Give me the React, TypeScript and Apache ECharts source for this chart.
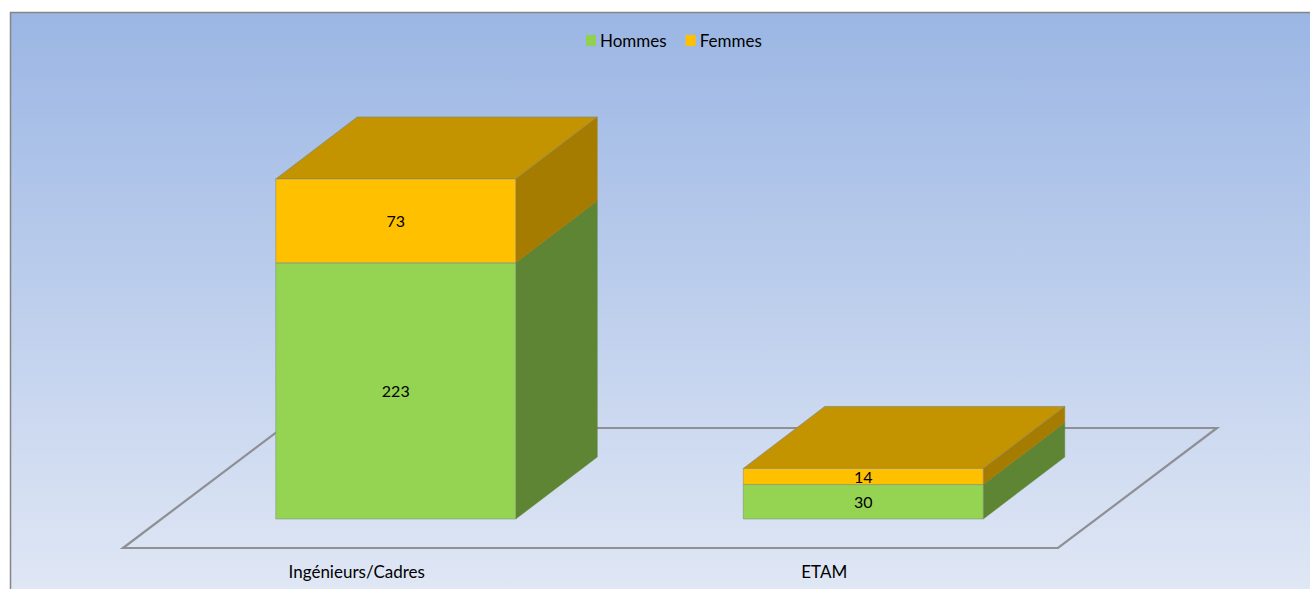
import React, { useEffect, useRef } from "react";
import * as echarts from "echarts";

const categories = ["Ingénieurs/Cadres", "ETAM"];
const hommes = [223, 30];
const femmes = [73, 14];

const WIDTH = 1310;
const HEIGHT = 589;
const FONT = "Lato, Carlito, sans-serif";
const FLOOR_DX = 159;
const FLOOR_DY = 120;
const FRONT_DX = 39;
const FRONT_DY = 29;
const BAR_DX = 81.5;
const BAR_DY = 62;
const BAR_RATIO = 240 / 467.5;
const EDGE = "rgba(120,130,130,0.6)";

function makeBarRender(front: string, side: string, top: string | null) {
  return (params: any, api: any) => {
    const cat = api.value(0);
    const p0 = api.coord([cat, api.value(1)]);
    const p1 = api.coord([cat, api.value(2)]);
    const w = api.size([1, 0])[0] * BAR_RATIO;
    const xl = p0[0] - w / 2 + FRONT_DX;
    const xr = xl + w;
    const yb = p0[1] - FRONT_DY;
    const yt = p1[1] - FRONT_DY;
    const children: any[] = [
      {
        type: "polygon",
        shape: { points: [[xr, yb], [xr, yt], [xr + BAR_DX, yt - BAR_DY], [xr + BAR_DX, yb - BAR_DY]] },
        style: { fill: side, stroke: side, lineWidth: 0.5 },
      },
    ];
    if (top) {
      children.push({
        type: "polygon",
        shape: { points: [[xl, yt], [xr, yt], [xr + BAR_DX, yt - BAR_DY], [xl + BAR_DX, yt - BAR_DY]] },
        style: { fill: top, stroke: EDGE, lineWidth: 1 },
      });
    }
    children.push({
      type: "rect",
      shape: { x: xl, y: yt, width: w, height: yb - yt },
      style: { fill: front, stroke: EDGE, lineWidth: 0.8 },
    });
    children.push({
      type: "text",
      style: {
        x: (xl + xr) / 2,
        y: (yt + yb) / 2,
        text: String(api.value(2) - api.value(1)),
        fill: "#000",
        font: `16px ${FONT}`,
        align: "center",
        verticalAlign: "middle",
      },
    });
    return { type: "group", children };
  };
}

export default function App() {
  const ref = useRef<HTMLDivElement>(null);
  useEffect(() => {
    document.body.style.margin = "0";
    const chart = echarts.init(ref.current!, undefined, { renderer: "svg" });
    chart.setOption({
      animation: false,
      backgroundColor: "#ffffff",
      grid: { left: 123, right: WIDTH - 1058, top: 88.56, bottom: HEIGHT - 548, containLabel: false },
      legend: {
        data: ["Hommes", "Femmes"],
        left: 581,
        top: 27,
        padding: 5,
        itemWidth: 10,
        itemHeight: 11,
        itemGap: 19,
        icon: "rect",
        textStyle: { fontFamily: FONT, fontSize: 17, color: "#000", padding: [0, 0, 0, -1] },
        selectedMode: false,
      },
      graphic: [
        {
          type: "rect",
          z: -10,
          silent: true,
          shape: { x: 10.5, y: 12.5, width: WIDTH, height: HEIGHT },
          style: {
            fill: new echarts.graphic.LinearGradient(0, 0, 0, 1, [
              { offset: 0, color: "#9bb6e4" },
              { offset: 1, color: "#e1e8f5" },
            ]),
            stroke: "#858585",
            lineWidth: 1.5,
          },
        },
      ],
      xAxis: {
        type: "category",
        data: categories,
        axisLine: { show: false },
        axisTick: { show: false },
        axisLabel: { fontFamily: FONT, fontSize: 17, color: "#000", margin: 15 },
      },
      yAxis: { type: "value", min: 0, max: 400, show: false },
      series: [
        {
          type: "custom",
          name: "Sol",
          silent: true,
          clip: false,
          data: [[0]],
          encode: { x: 0 },
          renderItem: (params: any) => {
            const c = params.coordSys;
            const by = c.y + c.height;
            return {
              type: "polygon",
              shape: {
                points: [
                  [c.x, by],
                  [c.x + c.width, by],
                  [c.x + c.width + FLOOR_DX, by - FLOOR_DY],
                  [c.x + FLOOR_DX, by - FLOOR_DY],
                ],
              },
              style: { fill: "transparent", stroke: "#8e9095", lineWidth: 2.2 },
            };
          },
        },
        {
          type: "custom",
          name: "Hommes",
          silent: true,
          clip: false,
          itemStyle: { color: "#92d050" },
          encode: { x: 0, y: [1, 2] },
          data: categories.map((_, i) => [i, 0, hommes[i]]),
          renderItem: makeBarRender("#94d452", "#5e8534", null),
        },
        {
          type: "custom",
          name: "Femmes",
          silent: true,
          clip: false,
          itemStyle: { color: "#ffc000" },
          encode: { x: 0, y: [1, 2] },
          data: categories.map((_, i) => [i, hommes[i], hommes[i] + femmes[i]]),
          renderItem: makeBarRender("#ffc000", "#a67c00", "#c49300"),
        },
      ],
    });
    return () => chart.dispose();
  }, []);
  return <div ref={ref} style={{ width: WIDTH, height: HEIGHT, overflow: "hidden" }} />;
}
